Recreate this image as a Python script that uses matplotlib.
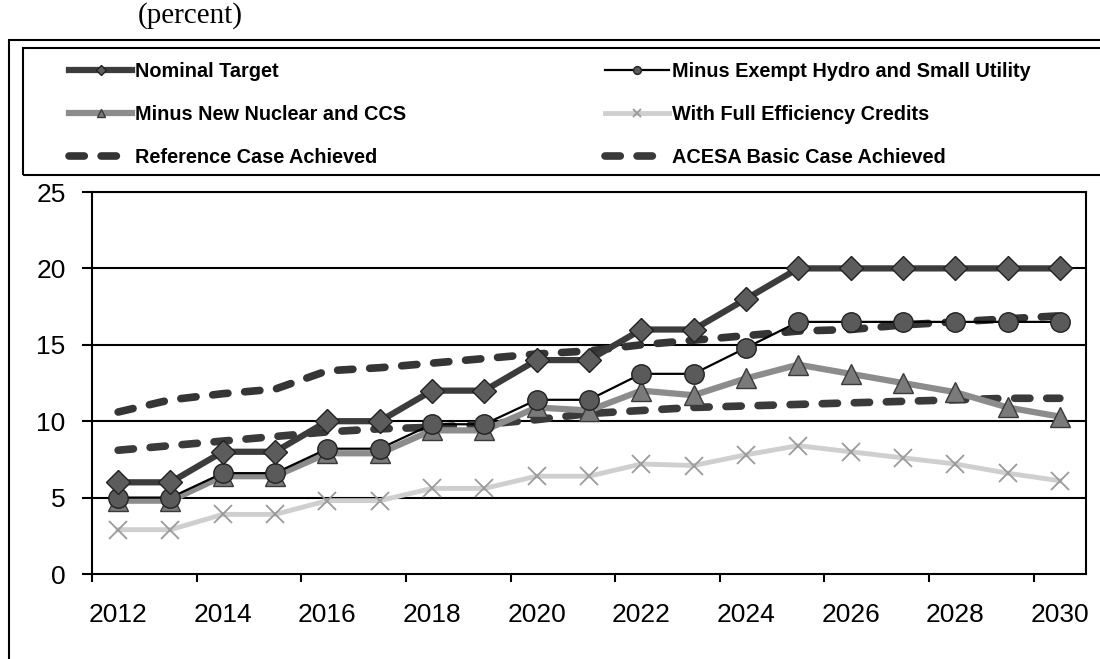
import matplotlib
matplotlib.use("Agg")
import matplotlib.pyplot as plt
from matplotlib.patches import Rectangle

years = list(range(2012, 2031))
nominal_target = [6, 6, 8, 8, 10, 10, 12, 12, 14, 14, 16, 16, 18, 20, 20, 20, 20, 20, 20]
minus_exempt = [5.0, 5.0, 6.6, 6.6, 8.2, 8.2, 9.8, 9.8, 11.4, 11.4, 13.1, 13.1, 14.8,
                16.5, 16.5, 16.5, 16.5, 16.5, 16.5]
minus_nuclear = [4.8, 4.8, 6.4, 6.4, 7.9, 7.9, 9.4, 9.4, 10.9, 10.7, 12.0, 11.7, 12.8,
                 13.7, 13.1, 12.5, 11.9, 10.9, 10.3]
full_efficiency = [2.9, 2.9, 3.9, 3.9, 4.8, 4.8, 5.6, 5.6, 6.4, 6.4, 7.2, 7.1, 7.8,
                   8.4, 8.0, 7.6, 7.2, 6.6, 6.1]
reference_case = [10.6, 11.4, 11.8, 12.1, 13.3, 13.5, 13.8, 14.1, 14.4, 14.6, 15.0, 15.3,
                  15.6, 15.9, 16.0, 16.3, 16.5, 16.7, 16.9]
acesa_basic = [8.1, 8.4, 8.7, 9.0, 9.3, 9.5, 9.6, 9.8, 10.1, 10.5, 10.7, 10.9, 11.0,
               11.1, 11.2, 11.3, 11.4, 11.5, 11.5]
yticks = [0, 5, 10, 15, 20, 25]

plt.rcParams['font.family'] = ['Liberation Sans', 'DejaVu Sans']

fig = plt.figure(figsize=(11, 6.59), dpi=100)
ax = fig.add_axes([92 / 1100, 1 - 574 / 659, 994 / 1100, (574 - 192) / 659])

x = list(range(len(years)))

for v in yticks[1:]:
    ax.axhline(v, color='black', lw=1.5, zorder=1)

ax.plot(x, reference_case, color='#353535', lw=5.5, dashes=(2.0, 2.2),
        dash_capstyle='round', label='Reference Case Achieved', zorder=2)
ax.plot(x, acesa_basic, color='#3a3a3a', lw=5.5, dashes=(2.0, 2.2),
        dash_capstyle='round', label='ACESA Basic Case Achieved', zorder=2)
ax.plot(x, full_efficiency, color='#cfcfcf', lw=3.5, marker='x', ms=13, mew=1.3,
        mec='#9a9a9a', label='With Full Efficiency Credits', zorder=3)
ax.plot(x, minus_nuclear, color='#8c8c8c', lw=4.5, marker='^', ms=15,
        mfc='#7a7a7a', mec='#3a3a3a', label='Minus New Nuclear and CCS', zorder=4)
ax.plot(x, minus_exempt, color='black', lw=1.6, marker='o', ms=14,
        mfc='#5a5a5a', mec='#222222', label='Minus Exempt Hydro and Small Utility', zorder=5)
ax.plot(x, nominal_target, color='#3c3c3c', lw=4.5, marker='D', ms=12,
        mfc='#5c5c5c', mec='#222222', label='Nominal Target', zorder=6)

ax.set_xlim(-0.5, len(years) - 0.5)
ax.set_ylim(0, 25)
ax.set_yticks(yticks)
ax.set_xticks(x[::2])
ax.set_xticklabels([str(y) for y in years[::2]])
ax.set_xticks([i - 0.5 for i in range(0, len(years), 2)], minor=True)
ax.tick_params(axis='x', which='major', length=0, pad=21, labelsize=19)
ax.tick_params(axis='x', which='minor', length=6, width=1.5, direction='out')
ax.tick_params(axis='y', length=7, width=1.5, direction='out', pad=12, labelsize=19)
for s in ax.spines.values():
    s.set_color('black')
    s.set_linewidth(1.5)

# legend (handles ordered column-wise)
h, l = ax.get_legend_handles_labels()
order = ['Nominal Target', 'Minus New Nuclear and CCS', 'Reference Case Achieved',
         'Minus Exempt Hydro and Small Utility', 'With Full Efficiency Credits',
         'ACESA Basic Case Achieved']
hd = dict(zip(l, h))
leg = fig.legend([hd[k] for k in order], order, ncol=2, frameon=False,
                 loc='upper left', bbox_to_anchor=(51 / 1100, 1 - 44 / 659),
                 prop={'weight': 'bold', 'size': 14.3}, handlelength=3.2,
                 handletextpad=0.15, columnspacing=10.0, labelspacing=1.2,
                 markerscale=0.4)

fig.patches.append(Rectangle((23 / 1100, 1 - 175 / 659), 1.1, (175 - 48) / 659,
                             transform=fig.transFigure, fill=False, ec='black', lw=1.5))
fig.patches.append(Rectangle((9 / 1100, -0.1), 1.1, 0.1 + 1 - 40 / 659,
                             transform=fig.transFigure, fill=False, ec='black', lw=1.5))

fig.text(190 / 1100, 1 - 16 / 659, '(percent)', family='Liberation Serif', fontsize=21,
         ha='center', va='center')

fig.savefig('out.png', dpi=100)
